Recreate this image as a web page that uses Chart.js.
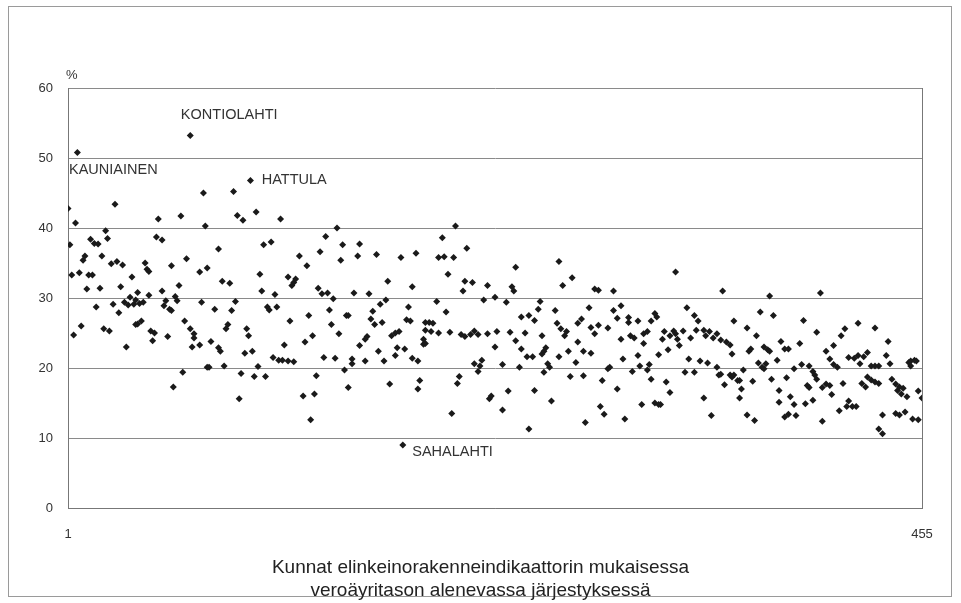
<!DOCTYPE html>
<html>
<head>
<meta charset="utf-8">
<script src="https://cdn.jsdelivr.net/npm/chart.js@4"></script>
<style>
  body { margin: 0; background: #fff; }
  canvas { display: block; }
</style>
</head>
<body>
<canvas id="myChart" width="961" height="603"></canvas>
<script>
// [rank of municipality, share %]
const municipalities = [
  [1,42.8],[2,37.6],[3,33.3],[4,24.7],[5,40.7],[6,50.8],[7,33.6],[8,26.0],[9,35.4],[10,36.0],
  [11,31.3],[12,33.3],[13,38.4],[14,33.3],[15,37.8],[16,28.7],[17,37.7],[18,31.4],[19,36.0],[20,25.6],
  [21,39.6],[22,38.5],[23,25.3],[24,34.9],[25,29.1],[26,43.4],[27,35.2],[28,27.9],[29,31.6],[30,34.7],
  [31,29.4],[32,23.0],[33,29.0],[34,30.1],[35,33.0],[36,29.1],[37,26.2],[37,29.7],[38,30.8],[38,26.3],
  [39,29.2],[40,26.7],[41,29.4],[42,35.0],[43,34.1],[44,33.8],[44,30.4],[45,25.3],[46,23.9],[47,25.0],
  [48,38.7],[49,41.3],[51,38.3],[51,31.0],[52,28.9],[53,29.6],[54,24.5],[55,28.4],[56,28.2],[56,34.6],
  [57,17.3],[58,30.2],[59,29.6],[60,31.8],[61,41.7],[62,19.4],[63,26.7],[64,35.6],[66,53.2],[66,25.6],
  [67,23.0],[68,24.9],[68,24.3],[71,23.3],[71,33.7],[72,29.4],[73,45.0],[74,40.3],[75,34.3],[75,20.1],
  [76,20.1],[77,23.8],[79,28.4],[81,37.0],[81,22.9],[82,22.4],[83,32.4],[84,20.3],[85,25.6],[86,26.2],
  [87,32.1],[88,28.2],[89,45.2],[90,29.5],[91,41.8],[92,15.6],[93,19.2],[94,41.1],[95,22.1],[96,25.6],
  [97,24.6],[98,46.8],[99,22.4],[100,18.8],[101,42.3],[102,20.2],[103,33.4],[104,31.0],[105,37.6],[106,18.8],
  [107,28.7],[108,28.3],[109,38.0],[110,21.5],[111,30.5],[112,28.7],[113,21.1],[114,41.3],[115,21.1],[116,23.3],
  [118,21.0],[118,33.0],[119,26.7],[120,31.8],[121,32.2],[121,20.9],[122,32.7],[124,36.0],[126,16.0],[127,23.7],
  [128,34.6],[129,27.5],[130,12.6],[131,24.6],[132,16.3],[133,18.9],[134,31.4],[135,36.6],[136,30.6],[137,21.5],
  [138,38.8],[139,30.7],[140,28.3],[141,26.2],[142,29.9],[143,21.4],[144,40.0],[145,24.9],[146,35.4],[147,37.6],
  [148,19.7],[149,27.5],[150,27.5],[150,17.2],[152,20.6],[152,21.3],[153,30.7],[155,36.0],[156,37.7],[156,23.2],
  [159,24.1],[159,21.0],[160,24.5],[161,30.6],[162,27.0],[163,28.1],[164,26.2],[165,36.2],[166,22.4],[167,29.1],
  [168,26.5],[169,21.0],[170,29.7],[171,32.4],[172,17.7],[173,24.6],[175,21.8],[175,25.0],[176,22.9],[177,25.2],
  [178,35.8],[179,9.0],[180,22.7],[181,26.9],[182,28.7],[183,26.7],[184,31.6],[184,21.4],[186,36.4],[187,17.0],
  [187,21.0],[188,18.2],[190,23.4],[190,24.1],[191,23.5],[191,26.5],[191,25.4],[193,26.5],[194,25.2],[195,26.4],
  [197,29.5],[198,35.8],[198,25.0],[200,38.6],[201,35.9],[202,28.0],[203,33.4],[204,25.1],[205,13.5],[206,35.8],
  [207,40.3],[208,17.8],[209,18.8],[210,24.8],[211,31.0],[212,32.4],[212,24.5],[213,37.1],[215,24.8],[216,32.2],
  [217,25.3],[217,20.6],[219,24.8],[219,19.5],[220,20.3],[221,21.1],[222,29.7],[224,31.8],[224,24.9],[225,15.6],
  [226,16.0],[228,23.0],[228,30.1],[229,25.2],[232,20.5],[232,14.0],[234,29.4],[235,16.7],[236,25.1],[237,31.6],
  [238,31.0],[239,34.4],[239,23.9],[241,20.1],[242,22.7],[242,27.3],[244,25.0],[245,21.6],[246,27.5],[246,11.3],
  [248,21.6],[249,16.8],[249,26.8],[251,28.4],[252,29.5],[253,24.6],[253,22.0],[254,22.4],[254,19.4],[255,22.9],
  [256,20.6],[257,20.1],[258,15.3],[260,28.2],[261,26.4],[262,21.6],[262,35.2],[263,25.6],[264,31.8],[265,24.6],
  [266,25.2],[267,22.4],[268,18.8],[269,32.9],[271,20.8],[272,26.4],[272,23.7],[274,27.0],[275,22.4],[275,18.9],
  [276,12.2],[278,28.6],[279,22.1],[279,25.8],[281,24.9],[281,31.3],[283,31.1],[283,26.1],[284,14.5],[285,18.2],
  [286,13.4],[288,25.7],[288,19.9],[289,20.1],[291,28.2],[291,31.0],[293,27.1],[293,17.0],[295,28.9],[295,24.1],
  [296,21.3],[297,12.7],[299,26.5],[299,27.2],[300,24.6],[301,19.5],[302,24.3],[304,26.7],[304,21.8],[305,20.3],
  [306,14.8],[307,23.5],[307,24.9],[309,25.2],[309,19.7],[310,20.5],[311,26.7],[311,18.4],[313,27.8],[313,15.0],
  [314,27.3],[315,21.9],[315,14.8],[316,14.8],[317,24.1],[318,25.2],[319,18.0],[320,22.6],[321,24.6],[321,16.5],
  [323,25.3],[324,24.9],[324,33.7],[325,24.1],[326,23.2],[328,25.3],[329,19.4],[330,28.6],[331,21.3],[332,24.3],
  [334,27.5],[334,19.4],[335,25.4],[336,26.7],[337,21.0],[339,25.4],[339,15.7],[340,24.6],[341,20.7],[342,25.2],
  [343,13.2],[344,24.3],[346,24.9],[346,20.1],[347,19.0],[348,24.0],[348,19.1],[349,31.0],[350,17.6],[351,23.7],
  [353,23.3],[353,19.0],[354,22.0],[354,18.7],[355,26.7],[355,19.0],[357,18.2],[358,18.2],[358,15.7],[359,17.0],
  [360,19.7],[362,25.7],[362,13.3],[363,22.4],[364,22.7],[365,18.1],[366,12.5],[367,24.6],[368,20.7],[369,28.0],
  [370,20.1],[371,23.0],[371,19.9],[372,20.6],[373,22.6],[374,22.4],[374,30.3],[375,18.4],[376,27.5],[378,21.1],
  [379,16.8],[379,15.1],[380,23.8],[382,22.7],[382,13.0],[383,18.6],[384,22.7],[384,13.4],[385,15.9],[387,19.9],
  [387,14.8],[388,13.2],[390,23.5],[391,20.5],[392,26.8],[393,14.9],[394,17.5],[395,20.3],[395,17.2],[397,19.5],
  [397,15.4],[398,19.0],[399,25.1],[399,18.4],[401,30.7],[402,17.2],[402,12.4],[404,22.4],[404,17.7],[406,21.3],
  [406,17.5],[407,16.2],[408,23.2],[408,20.5],[410,20.1],[411,13.9],[412,24.6],[413,17.8],[414,25.6],[415,14.5],
  [416,21.5],[416,15.3],[418,14.5],[419,21.4],[420,14.5],[421,26.4],[421,21.8],[422,20.6],[423,17.8],[424,21.6],
  [425,17.3],[426,22.2],[426,18.7],[428,20.3],[428,18.3],[430,20.3],[430,18.0],[430,25.7],[432,20.3],[432,17.8],
  [432,11.3],[434,13.3],[434,10.6],[436,21.8],[437,23.8],[438,20.6],[439,18.4],[441,17.7],[441,13.5],[442,16.8],
  [443,17.3],[443,13.3],[444,16.3],[445,17.1],[446,13.7],[447,15.9],[448,20.8],[449,21.0],[449,20.3],[450,12.7],
  [451,21.1],[452,21.0],[453,12.6],[453,16.7],[455,15.7]
];

const xTicks = [1, 455];
const yTicks = [0, 10, 20, 30, 40, 50, 60];

// named municipalities and where their label sits (rank, %)
const labelNames = ['KAUNIAINEN', 'KONTIOLAHTI', 'HATTULA', 'SAHALAHTI'];
const labelRank = [1, 61, 104, 184];
const labelPct = [48.3, 56.1, 46.9, 8.0];

const xTitle = ['Kunnat elinkeinorakenneindikaattorin mukaisessa', 'veroäyritason alenevassa järjestyksessä'];

const FONT = 'Liberation Sans, Arial, sans-serif';

const extras = {
    id: 'extras',
    beforeDraw(chart) {
        const ctx = chart.ctx;
        ctx.save();
        ctx.fillStyle = '#fff';
        ctx.fillRect(0, 0, chart.width, chart.height);
        ctx.strokeStyle = '#9a9a9a';
        ctx.lineWidth = 1;
        ctx.strokeRect(8.5, 6.5, chart.width - 18, chart.height - 13);
        ctx.restore();
    },
    afterDraw(chart) {
        const ctx = chart.ctx;
        const area = chart.chartArea;
        const xs = chart.scales.x, ys = chart.scales.y;
        ctx.save();
        ctx.strokeStyle = '#777';
        ctx.lineWidth = 1;
        ctx.beginPath();
        ctx.moveTo(Math.round(area.right) + 0.5, area.top);
        ctx.lineTo(Math.round(area.right) + 0.5, area.bottom);
        ctx.stroke();

        ctx.fillStyle = '#333';
        ctx.font = '13px ' + FONT;
        ctx.textBaseline = 'middle';
        ctx.textAlign = 'left';
        ctx.fillText('%', area.left - 2, area.top - 13);

        ctx.font = '14.5px ' + FONT;
        labelNames.forEach((name, i) => {
            const px = i === 0 ? area.left + 1 : xs.getPixelForValue(labelRank[i]);
            ctx.fillText(name, px, ys.getPixelForValue(labelPct[i]));
        });

        // axis title is centred on the whole picture, not on the plot
        ctx.fillStyle = '#222';
        ctx.font = '19px ' + FONT;
        ctx.textAlign = 'center';
        xTitle.forEach((line, i) => {
            ctx.fillText(line, chart.width / 2, area.bottom + 60 + i * 23);
        });
        ctx.restore();
    }
};

const ctx = document.getElementById('myChart').getContext('2d');
new Chart(ctx, {
    type: 'scatter',
    data: {
        datasets: [{
            data: municipalities.map(p => ({ x: p[0], y: p[1] })),
            pointStyle: 'rectRot',
            pointRadius: 3.5,
            pointBorderWidth: 0,
            backgroundColor: '#1a1a1a',
            borderColor: '#1a1a1a'
        }]
    },
    options: {
        responsive: false,
        animation: false,
        devicePixelRatio: 1,
        layout: { padding: { left: 20, right: 39, top: 88, bottom: 1 } },
        plugins: {
            legend: { display: false },
            tooltip: { enabled: false }
        },
        scales: {
            x: {
                type: 'linear',
                min: xTicks[0],
                max: xTicks[1],
                afterBuildTicks: scale => { scale.ticks = xTicks.map(v => ({ value: v })); },
                afterFit: scale => { scale.height = 94; },
                grid: { display: false },
                border: { display: true, color: '#777' },
                ticks: {
                    padding: 11,
                    maxRotation: 0,
                    autoSkip: false,
                    color: '#333',
                    font: { family: FONT, size: 13 }
                }
            },
            y: {
                min: 0,
                max: 60,
                afterBuildTicks: scale => { scale.ticks = yTicks.map(v => ({ value: v })); },
                afterFit: scale => { scale.width = 48; },
                grid: { color: '#8a8a8a', drawTicks: false, lineWidth: 1 },
                border: { display: true, color: '#777' },
                ticks: {
                    padding: 15,
                    color: '#333',
                    font: { family: FONT, size: 13 }
                }
            }
        }
    },
    plugins: [extras]
});
</script>
</body>
</html>
